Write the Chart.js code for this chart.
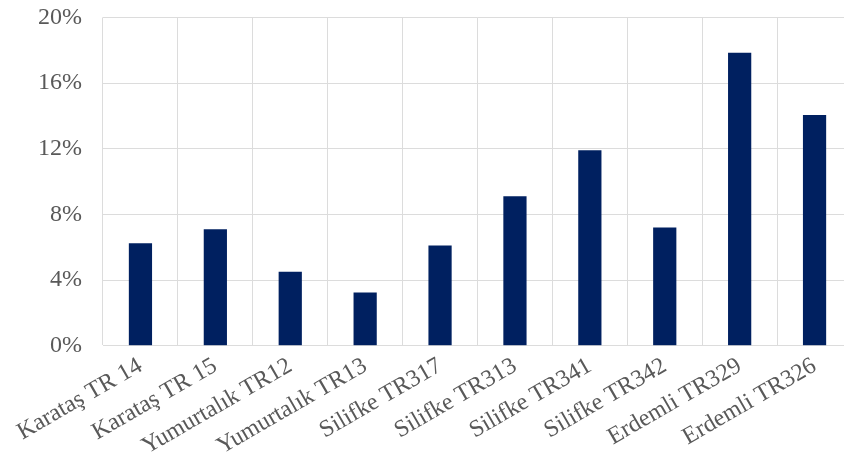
<!DOCTYPE html>
<html>
<head>
<meta charset="utf-8">
<script src="https://cdn.jsdelivr.net/npm/chart.js@4/dist/chart.umd.min.js"></script>
<style>
  html, body { margin: 0; padding: 0; background: #fff; overflow: hidden; }
  #wrap { position: relative; width: 852px; height: 469px; }
</style>
</head>
<body>
<div id="wrap"><canvas id="chart"></canvas></div>
<script>
// istasyonlar ve oranlar (%)
var categories = ['Karataş TR 14', 'Karataş TR 15', 'Yumurtalık TR12', 'Yumurtalık TR13', 'Silifke TR317',
                  'Silifke TR313', 'Silifke TR341', 'Silifke TR342', 'Erdemli TR329', 'Erdemli TR326'];
var values = [6.25, 7.1, 4.5, 3.25, 6.1, 9.1, 11.9, 7.2, 17.85, 14.05];
var yTicks = [0, 4, 8, 12, 16, 20];

var gridColor = '#dcdcdc';
var textColor = '#595959';
var fontFamily = '"Liberation Serif", "Times New Roman", serif';

new Chart(document.getElementById('chart'), {
    type: 'bar',
    data: {
        labels: categories,
        datasets: [{
            data: values,
            backgroundColor: '#002060',
            barPercentage: 0.31,
            categoryPercentage: 1
        }]
    },
    options: {
        responsive: true,
        maintainAspectRatio: false,
        animation: false,
        layout: { padding: { top: 0, left: 0, right: 0, bottom: 2 } },
        plugins: {
            legend: { display: false },
            tooltip: { enabled: false }
        },
        scales: {
            x: {
                grid: { color: gridColor, drawTicks: false, offset: true },
                border: { color: gridColor },
                ticks: {
                    color: textColor,
                    font: { family: fontFamily, size: 24 },
                    minRotation: 30,
                    maxRotation: 30,
                    padding: 6,
                    autoSkip: false
                }
            },
            y: {
                min: 0,
                max: 20,
                afterBuildTicks: function(axis) {
                    axis.ticks = yTicks.map(function(v) { return { value: v }; });
                },
                afterFit: function(axis) { axis.width = 103; },
                grid: { color: gridColor, tickColor: 'rgba(0,0,0,0)', tickLength: 18 },
                border: { display: false },
                ticks: {
                    color: textColor,
                    font: { family: fontFamily, size: 24 },
                    padding: 3,
                    callback: function(value) { return value + '%'; }
                }
            }
        }
    }
});
</script>
</body>
</html>
